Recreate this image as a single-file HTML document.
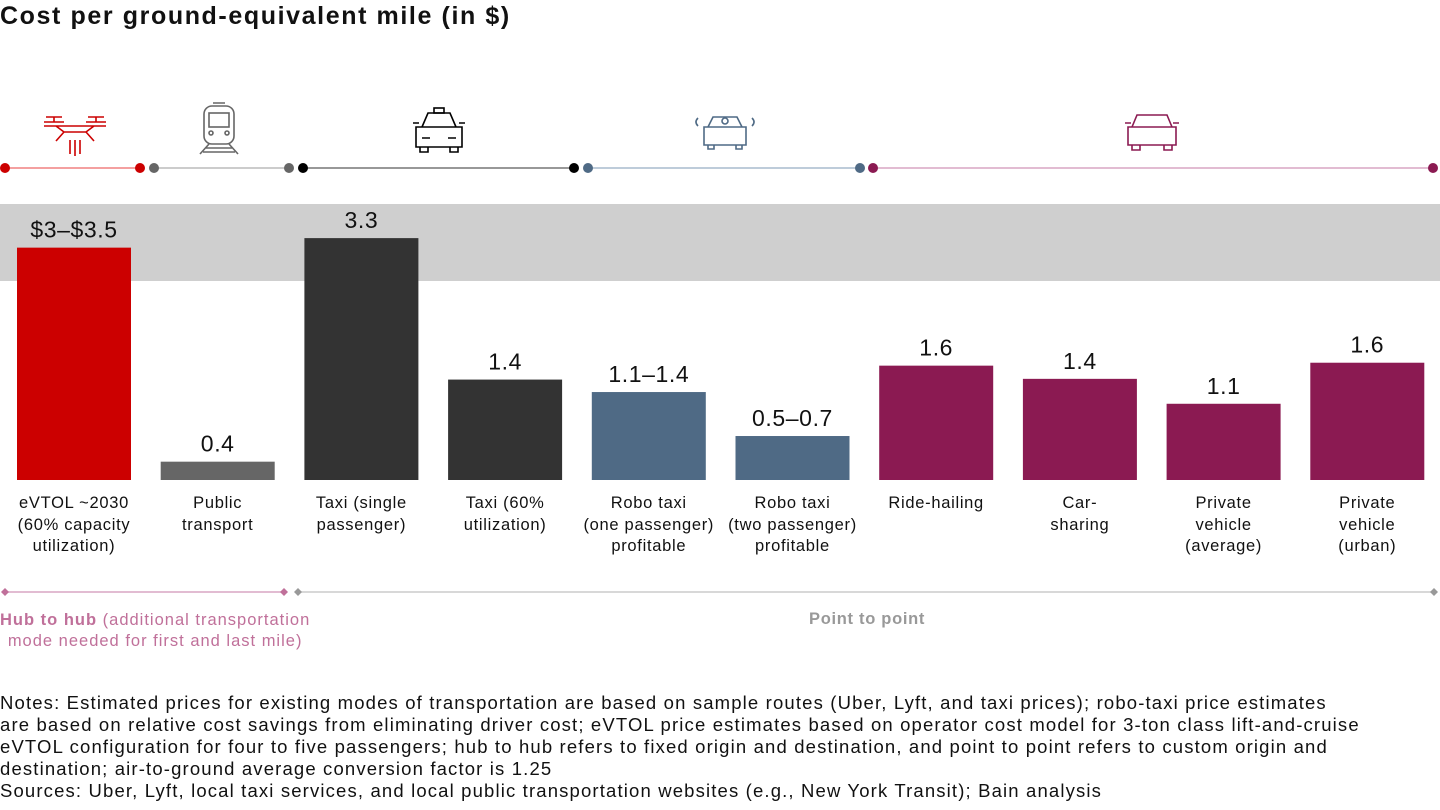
<!DOCTYPE html>
<html><head><meta charset="utf-8"><style>
body{margin:0;width:1440px;height:810px;background:#fff;font-family:"Liberation Sans",sans-serif;overflow:hidden;position:relative}
.t{position:absolute;white-space:nowrap}
</style></head><body>
<div class="t" style="left:0;top:2px;font-size:25px;letter-spacing:1.6px;font-weight:bold;color:#111">Cost per ground-equivalent mile (in $)</div>
<svg id="c" width="1440" height="810" style="position:absolute;left:0;top:0">
<rect x="0" y="204" width="1440" height="77" fill="#cfcfcf"/>
<g id="bars"></g>
<g id="segs"></g>
<g fill="none" stroke="#cc0000" stroke-width="1.6">
<path d="M44 122h20M54 117v5M46 117h16M86 122h20M96 117v5M88 117h16M44 126h62M56 126l8 6h22l8-6M64 132l-8 9M86 132l8 9M70 140v14M75 140v16M80 140v14"/></g>
<g fill="none" stroke="#666" stroke-width="1.6">
<rect x="204" y="106" width="30" height="38" rx="8"/><rect x="209" y="113" width="20" height="14"/><circle cx="211" cy="133" r="2"/><circle cx="227" cy="133" r="2"/><path d="M213 103h12M209 144l-9 10M229 144l9 10M206 148h26M203 152h32"/></g>
<g fill="none" stroke="#000" stroke-width="1.6">
<rect x="434" y="108" width="10" height="5"/><path d="M422 127l6-14h22l6 14M413 123h6M459 123h6M416 127h46v20h-46zM420 147v5h8v-5M450 147v5h8v-5M422 138h8M448 138h8"/></g>
<g fill="none" stroke="#4f6a85" stroke-width="1.6">
<path d="M708 127l5-10h24l5 10M704 127h42v18h-42zM708 145v4h6v-4M736 145v4h6v-4M698 118q-4 4 0 8M752 118q4 4 0 8"/><circle cx="725" cy="121" r="3"/></g>
<g fill="none" stroke="#8b1a52" stroke-width="1.6">
<path d="M1132 127l5-12h30l5 12M1125 123h6M1173 123h6M1128 127h48v18h-48zM1132 145v5h8v-5M1164 145v5h8v-5"/></g>
<line x1="5" y1="592" x2="284" y2="592" stroke="#d9a6c3" stroke-width="1.5"/>
<line x1="298" y1="592" x2="1434" y2="592" stroke="#ccc" stroke-width="1.5"/>
<path d="M5 588l4 4-4 4-4-4zM284 588l4 4-4 4-4-4z" fill="#c0709a"/>
<path d="M298 588l4 4-4 4-4-4zM1434 588l4 4-4 4-4-4z" fill="#999"/>
</svg>
<div class="t" style="left:0;top:610px;font-size:16.5px;letter-spacing:1px;line-height:21px;color:#c0709a;text-align:center"><b>Hub to hub</b> (additional transportation<br>mode needed for first and last mile)</div>
<div class="t" style="left:809px;top:610px;font-size:16.5px;letter-spacing:0.7px;font-weight:bold;color:#999">Point to point</div>
<div class="t" style="left:0;top:692px;font-size:18.5px;letter-spacing:1.15px;line-height:22px;color:#111">Notes: Estimated prices for existing modes of transportation are based on sample routes (Uber, Lyft, and taxi prices); robo-taxi price estimates<br>are based on relative cost savings from eliminating driver cost; eVTOL price estimates based on operator cost model for 3-ton class lift-and-cruise<br>eVTOL configuration for four to five passengers; hub to hub refers to fixed origin and destination, and point to point refers to custom origin and<br>destination; air-to-ground average conversion factor is 1.25<br>Sources: Uber, Lyft, local taxi services, and local public transportation websites (e.g., New York Transit); Bain analysis</div>
<script>
const categories=["eVTOL ~2030<br>(60% capacity<br>utilization)","Public<br>transport","Taxi (single<br>passenger)","Taxi (60%<br>utilization)","Robo taxi<br>(one passenger)<br>profitable","Robo taxi<br>(two passenger)<br>profitable","Ride-hailing","Car-<br>sharing","Private<br>vehicle<br>(average)","Private<br>vehicle<br>(urban)"];
const values=[3.17,0.25,3.3,1.37,1.2,0.6,1.56,1.38,1.04,1.6];
const valueLabels=["$3–$3.5","0.4","3.3","1.4","1.1–1.4","0.5–0.7","1.6","1.4","1.1","1.6"];
const colors=["#cc0000","#666666","#333333","#333333","#4f6a85","#4f6a85","#8b1a52","#8b1a52","#8b1a52","#8b1a52"];
const ns="http://www.w3.org/2000/svg";
const base=480,scale=73.3,x0=17,step=143.7,bw=114;
const y=v=>base-v*scale, x=i=>x0+i*step;
const g=document.getElementById('bars');
values.forEach((v,i)=>{
 const r=document.createElementNS(ns,'rect');
 r.setAttribute('x',x(i));r.setAttribute('y',y(v));r.setAttribute('width',bw);r.setAttribute('height',base-y(v));r.setAttribute('fill',colors[i]);
 
 
 g.appendChild(r);
 const t=document.createElementNS(ns,'text');
 t.setAttribute('x',x(i)+bw/2);t.setAttribute('y',y(v)-10);t.setAttribute('text-anchor','middle');t.setAttribute('font-size','23');t.setAttribute('letter-spacing','0.6');t.setAttribute('fill','#111');t.setAttribute('font-family','Liberation Sans, sans-serif');
 t.textContent=valueLabels[i];
 
 
 g.appendChild(t);
 const d=document.createElement('div');
 d.className='t';d.style.left=(x(i)-25)+'px';d.style.width=(bw+50)+'px';d.style.top='493px';d.style.textAlign='center';d.style.fontSize='16.5px';d.style.letterSpacing='0.7px';d.style.lineHeight='21.5px';d.style.color='#111';
 d.innerHTML=categories[i];
 
 
 document.body.appendChild(d);
});
const segStart=[5,154,303,588,873],segEnd=[140,289,574,860,1433],segCol=["#cc0000","#666666","#000000","#4f6a85","#8b1a52"],segLine=["#f08080","#bbbbbb","#777777","#a9bccd","#d9a6c3"];
const sg=document.getElementById('segs');
segStart.forEach((s,i)=>{
 const l=document.createElementNS(ns,'line');
 l.setAttribute('x1',s);l.setAttribute('x2',segEnd[i]);l.setAttribute('y1',168);l.setAttribute('y2',168);l.setAttribute('stroke',segLine[i]);l.setAttribute('stroke-width','1.5');
 
 
 sg.appendChild(l);
 [s,segEnd[i]].forEach(cx=>{const c=document.createElementNS(ns,'circle');c.setAttribute('cx',cx);c.setAttribute('cy',168);c.setAttribute('r',5);c.setAttribute('fill',segCol[i]);
 
 
 sg.appendChild(c);});
});
</script>
</body></html>
